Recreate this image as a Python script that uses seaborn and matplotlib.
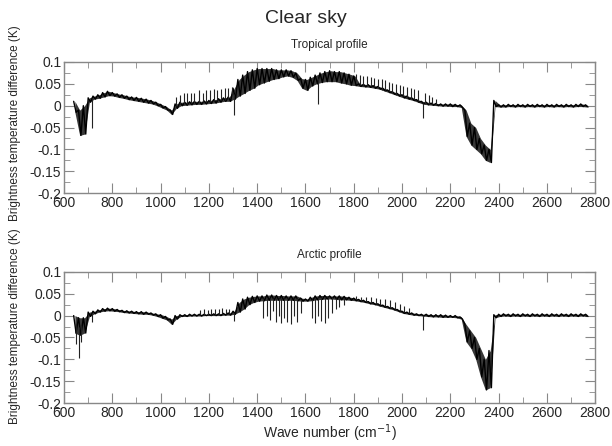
#%% packages
import numpy as np
import pandas as pd
import seaborn as sns
import matplotlib
matplotlib.use("Agg")
import matplotlib.pyplot as plt
from matplotlib.ticker import MultipleLocator

#%% data
# band envelope (upper / lower) every 20 cm-1
wavenumber = np.arange(640, 2761, 20)

tropical_hi = [0.010, -0.010, 0.000, 0.018,
               0.022, 0.025, 0.030, 0.033, 0.030,
               0.027, 0.025, 0.022, 0.020, 0.019, 0.017, 0.015, 0.012, 0.008, 0.003,
               -0.002, -0.010, 0.004, 0.008, 0.008, 0.009, 0.010, 0.010, 0.011, 0.012,
               0.014, 0.016, 0.018, 0.020, 0.040, 0.060, 0.070, 0.078, 0.082, 0.085,
               0.085, 0.085, 0.085, 0.082, 0.082, 0.082, 0.080, 0.075, 0.062, 0.060,
               0.065, 0.070, 0.075, 0.078, 0.080, 0.078, 0.078, 0.075, 0.072, 0.068,
               0.050, 0.049, 0.048, 0.046, 0.044, 0.040, 0.036, 0.032, 0.028, 0.025,
               0.022, 0.018, 0.014, 0.010, 0.008, 0.006, 0.005, 0.004, 0.004, 0.004,
               0.003, 0.002, -0.010, -0.040, -0.050, -0.075, -0.090, -0.100, 0.012, 0.002,
               0.002, 0.003, 0.002, 0.003, 0.002, 0.003, 0.002, 0.003, 0.002, 0.003,
               0.002, 0.003, 0.002, 0.003, 0.002, 0.003, 0.004, 0.002]
tropical_lo = [-0.015, -0.068, -0.065, 0.008,
               0.015, 0.017, 0.020, 0.023, 0.022,
               0.019, 0.017, 0.014, 0.012, 0.010, 0.008, 0.006, 0.004, 0.000, -0.005,
               -0.010, -0.020, -0.006, 0.000, 0.001, 0.002, 0.003, 0.003, 0.004, 0.005,
               0.006, 0.008, 0.010, 0.010, 0.015, 0.022, 0.028, 0.035, 0.040, 0.048,
               0.052, 0.056, 0.060, 0.062, 0.066, 0.068, 0.065, 0.058, 0.040, 0.035,
               0.045, 0.050, 0.053, 0.055, 0.055, 0.055, 0.052, 0.050, 0.047, 0.046,
               0.044, 0.043, 0.042, 0.040, 0.038, 0.034, 0.030, 0.026, 0.022, 0.018,
               0.015, 0.012, 0.008, 0.004, 0.002, 0.001, 0.000, -0.001, -0.001, -0.002,
               -0.002, -0.004, -0.070, -0.090, -0.100, -0.110, -0.125, -0.130, -0.002, -0.003,
               -0.003, -0.002, -0.003, -0.002, -0.003, -0.002, -0.003, -0.002, -0.003, -0.002,
               -0.003, -0.002, -0.003, -0.002, -0.003, -0.002, -0.002, -0.003]

arctic_hi = [0.000, -0.005, -0.005, 0.008,
             0.010, 0.013, 0.016, 0.017, 0.016,
             0.014, 0.012, 0.011, 0.010, 0.009, 0.009, 0.008, 0.006, 0.004, 0.002,
             -0.002, -0.008, 0.000, 0.002, 0.002, 0.003, 0.003, 0.003, 0.003, 0.003,
             0.004, 0.004, 0.005, 0.006, 0.010, 0.030, 0.038, 0.042, 0.044, 0.045,
             0.045, 0.047, 0.047, 0.046, 0.046, 0.045, 0.045, 0.045, 0.040, 0.038,
             0.042, 0.045, 0.046, 0.046, 0.045, 0.045, 0.045, 0.044, 0.042, 0.040,
             0.037, 0.035, 0.032, 0.030, 0.027, 0.024, 0.021, 0.018, 0.014, 0.010,
             0.008, 0.006, 0.004, 0.003, 0.003, 0.002, 0.002, 0.002, 0.001, 0.000,
             0.000, -0.003, -0.020, -0.035, -0.050, -0.075, -0.100, -0.080, 0.002, 0.003,
             0.004, 0.003, 0.004, 0.003, 0.004, 0.003, 0.004, 0.003, 0.004, 0.003,
             0.004, 0.003, 0.004, 0.003, 0.004, 0.003, 0.004, 0.003]
arctic_lo = [-0.040, -0.045, -0.040, -0.002,
             0.004, 0.008, 0.010, 0.011, 0.010,
             0.009, 0.007, 0.006, 0.005, 0.004, 0.003, 0.003, 0.001, -0.002, -0.006,
             -0.010, -0.020, -0.008, -0.002, -0.002, -0.001, -0.001, -0.001, 0.000, 0.000,
             0.000, 0.000, 0.001, 0.001, 0.003, 0.008, 0.015, 0.025, 0.030, 0.033,
             0.034, 0.035, 0.035, 0.035, 0.035, 0.035, 0.035, 0.034, 0.033, 0.033,
             0.034, 0.036, 0.037, 0.038, 0.038, 0.037, 0.036, 0.036, 0.035, 0.034,
             0.032, 0.030, 0.027, 0.025, 0.022, 0.019, 0.016, 0.013, 0.009, 0.005,
             0.003, 0.001, 0.000, -0.001, -0.002, -0.003, -0.003, -0.004, -0.004, -0.004,
             -0.005, -0.008, -0.060, -0.075, -0.100, -0.140, -0.170, -0.165, -0.005, -0.002,
             -0.001, -0.002, -0.001, -0.002, -0.001, -0.002, -0.001, -0.002, -0.001, -0.002,
             -0.001, -0.002, -0.001, -0.002, -0.001, -0.002, -0.001, -0.002]

# isolated absorption lines sticking out of the band
tropical_spike_wn = [715, 1065, 1080, 1095, 1110, 1125, 1140, 1160, 1175, 1190,
                     1205, 1220, 1235, 1250, 1265, 1280, 1295, 1302, 1652,
                     1810, 1825, 1840, 1855, 1870, 1885, 1900, 1915, 1930, 1945,
                     1960, 1975, 1990, 2005, 2020, 2035, 2050, 2065, 2085, 2095,
                     2110, 2125, 2140]
tropical_spike_val = [-0.050, 0.020, 0.025, 0.028, 0.030, 0.028, 0.030, 0.035, 0.030, 0.035,
                      0.035, 0.038, 0.036, 0.038, 0.040, 0.040, 0.042, -0.022, 0.005,
                      0.072, 0.070, 0.068, 0.068, 0.066, 0.064, 0.062, 0.060, 0.058, 0.055,
                      0.052, 0.050, 0.048, 0.046, 0.042, 0.040, 0.038, 0.035, -0.028, 0.030,
                      0.025, 0.020, 0.015]

arctic_spike_wn = [648, 663, 672, 715, 1165, 1180, 1195, 1210, 1225, 1240,
                   1255, 1270, 1285, 1302, 1425, 1440, 1452, 1465, 1478, 1490,
                   1500, 1512, 1525, 1540, 1552, 1565, 1580, 1625, 1640, 1652,
                   1665, 1680, 1695, 1710, 1725, 1740, 1760, 1810, 1830, 1850,
                   1870, 1890, 1910, 1930, 1950, 1970, 1990, 2010, 2030, 2085]
arctic_spike_val = [-0.065, -0.098, -0.060, -0.015, 0.012, 0.014, 0.012, 0.015, 0.015, 0.016,
                    0.018, 0.016, 0.015, -0.012, -0.005, 0.000, -0.010, 0.010, -0.015, 0.000,
                    -0.018, -0.005, -0.015, -0.020, 0.000, -0.015, 0.005, -0.005, -0.018, 0.000,
                    -0.012, -0.018, -0.005, 0.005, 0.015, 0.020, 0.025, 0.045, 0.043, 0.042,
                    0.042, 0.040, 0.038, 0.037, 0.035, 0.030, 0.026, 0.022, 0.018, -0.033]

profiles = ["Tropical profile", "Arctic profile"]


#%% zigzag between envelopes so the band reads like a dense spectrum
def spectrum(hi, lo):
    x = np.column_stack([wavenumber, wavenumber + 10]).ravel()
    y = np.column_stack([hi, lo]).ravel()
    return pd.DataFrame({"wn": x, "dbt": y})


data = {
    "Tropical profile": (tropical_hi, tropical_lo, tropical_spike_wn, tropical_spike_val),
    "Arctic profile": (arctic_hi, arctic_lo, arctic_spike_wn, arctic_spike_val),
}

#%% plot
sns.set_style("ticks")
plt.rcParams["font.family"] = ["Liberation Sans", "DejaVu Sans"]

fig = plt.figure(figsize=(6.12, 4.46), dpi=100)
ax_top = fig.add_axes([0.1046, 0.567, 0.868, 0.294])
ax_bot = fig.add_axes([0.1046, 0.0964, 0.868, 0.294])

for ax, name, ly in zip([ax_top, ax_bot], profiles, [0.53, 0.59]):
    hi, lo, s_wn, s_val = data[name]
    hi, lo = np.array(hi), np.array(lo)
    ax.fill_between(wavenumber + 5, lo, hi, color="black", alpha=0.78, lw=0)
    sns.lineplot(data=spectrum(hi, lo), x="wn", y="dbt", sort=False, estimator=None,
                 color="black", lw=1.0, ax=ax)
    # spikes start from the middle of the band at the closest grid point
    idx = np.abs(wavenumber[None, :] - np.array(s_wn)[:, None]).argmin(axis=1)
    base = 0.5 * (hi[idx] + lo[idx])
    ax.vlines(s_wn, base, s_val, color="#222222", lw=0.8)

    ax.set_xlim(600, 2800)
    ax.set_ylim(-0.2, 0.1)
    ax.xaxis.set_major_locator(MultipleLocator(200))
    ax.xaxis.set_minor_locator(MultipleLocator(100))
    ax.set_yticks([-0.2, -0.15, -0.1, -0.05, 0, 0.05, 0.1])
    ax.set_yticklabels(["-0.2", "-0.15", "-0.1", "-0.05", "0", "0.05", "0.1"])
    ax.yaxis.set_minor_locator(MultipleLocator(0.025))
    ax.tick_params(which="both", direction="in", top=True, right=True,
                   color="#888888", labelsize=10, pad=2)
    ax.tick_params(which="major", length=7)
    ax.tick_params(which="minor", length=4)
    for s in ax.spines.values():
        s.set_color("#888888")
        s.set_linewidth(1.0)
    ax.set_title(name, fontsize=8.5, pad=10)
    ax.set_ylabel("Brightness temperature difference (K)", fontsize=8.5)
    ax.yaxis.set_label_coords(-0.081, ly)
    ax.set_xlabel("")

ax_bot.set_xlabel("Wave number (cm$^{-1}$)", fontsize=10, labelpad=2)
fig.suptitle("Clear sky", fontsize=14, y=0.977)

fig.savefig("out.png", dpi=100)
